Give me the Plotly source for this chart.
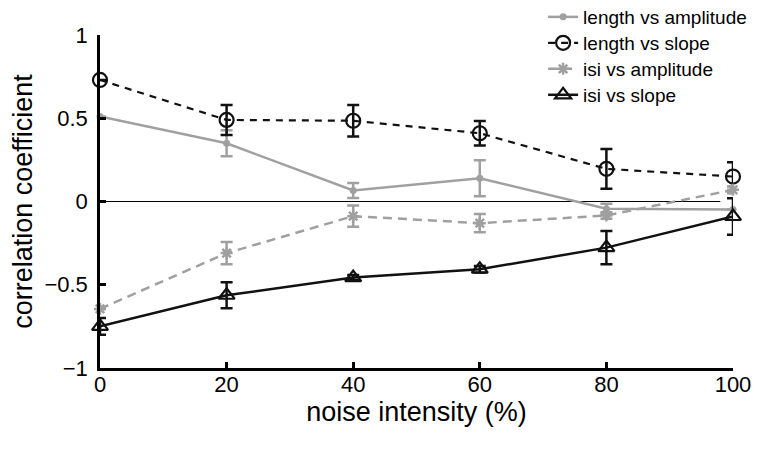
import plotly.graph_objects as go

noise = [0, 20, 40, 60, 80, 100]

len_amp = [0.51, 0.35, 0.066, 0.14, -0.044, -0.048]
len_amp_err = [0.0, 0.078, 0.045, 0.108, 0.03, 0.0]

len_slope = [0.73, 0.49, 0.485, 0.41, 0.196, 0.15]
len_slope_err = [0.0, 0.09, 0.094, 0.074, 0.12, 0.085]

isi_amp = [-0.645, -0.31, -0.088, -0.13, -0.084, 0.07]
isi_amp_err = [0.0, 0.067, 0.064, 0.055, 0.02, 0.02]

isi_slope = [-0.75, -0.563, -0.457, -0.407, -0.277, -0.09]
isi_slope_err = [0.05, 0.078, 0.015, 0.02, 0.1, 0.11]

names = ["length vs amplitude", "length vs slope", "isi vs amplitude", "isi vs slope"]

GRAY = "#a0a0a0"
BLACK = "#111111"

fig = go.Figure()

fig.add_shape(type="line", x0=0, x1=98, y0=0, y1=0, xref="x", yref="y",
              line=dict(color="black", width=1), layer="below")

def err(vals, color, w=2.5):
    return dict(type="data", array=vals, visible=True, color=color, thickness=w, width=6)

fig.add_trace(go.Scatter(
    x=noise, y=len_amp, name=names[0], mode="lines+markers", legend="legend",
    line=dict(color=GRAY, width=2.5),
    marker=dict(symbol="circle", size=7, color=GRAY),
    error_y=err(len_amp_err, GRAY), cliponaxis=False))

fig.add_trace(go.Scatter(
    x=noise, y=len_slope, name=names[1], mode="lines+markers", legend="legend2",
    line=dict(color=BLACK, width=2.2, dash="7px,6px"),
    marker=dict(symbol="circle-open", size=14, color=BLACK, line=dict(width=2.2, color=BLACK)),
    error_y=err(len_slope_err, BLACK), cliponaxis=False))

fig.add_trace(go.Scatter(
    x=noise, y=isi_amp, name=names[2], mode="lines+markers", legend="legend3",
    line=dict(color=GRAY, width=2.5, dash="9px,6px"),
    marker=dict(symbol="asterisk-open", size=10, color=GRAY, line=dict(width=2.5, color=GRAY)),
    error_y=err(isi_amp_err, GRAY), cliponaxis=False))

fig.add_trace(go.Scatter(
    x=noise, y=isi_slope, name=names[3], mode="lines+markers", legend="legend4",
    line=dict(color=BLACK, width=2.5),
    marker=dict(symbol="triangle-up-open", size=14, color=BLACK, line=dict(width=2.2, color=BLACK)),
    error_y=err(isi_slope_err, BLACK), cliponaxis=False))

FONT = "Liberation Sans"

legend_y = [1.054, 0.976, 0.898, 0.820]

def leg(y):
    return dict(x=0.700, xanchor="left", y=y, yanchor="middle",
                font=dict(size=19, family=FONT), bgcolor="rgba(0,0,0,0)",
                itemwidth=30, borderwidth=0)

fig.update_layout(
    width=756, height=442,
    margin=dict(l=92, r=31, t=27, b=82, autoexpand=False),
    plot_bgcolor="white", paper_bgcolor="white",
    font=dict(family=FONT, size=22, color="black"),
    showlegend=True,
    legend=leg(legend_y[0]),
    legend2=leg(legend_y[1]),
    legend3=leg(legend_y[2]),
    legend4=leg(legend_y[3]),
    xaxis=dict(range=[0, 100], tickvals=[0, 20, 40, 60, 80, 100],
               showline=True, linecolor="black", linewidth=2.5, mirror=False,
               ticks="inside", ticklen=6, tickwidth=2.5, tickcolor="black",
               showgrid=False, zeroline=False, ticklabelstandoff=-5,
               title=dict(text="noise intensity (%)", font=dict(size=27), standoff=0),
               tickfont=dict(size=22)),
    yaxis=dict(range=[-1, 1], tickvals=[-1, -0.5, 0, 0.5, 1],
               ticktext=["\u22121", "\u22120.5", "0", "0.5", "1"],
               showline=True, linecolor="black", linewidth=2.5,
               ticks="inside", ticklen=6, tickwidth=2.5, tickcolor="black",
               showgrid=False, zeroline=False, ticklabelstandoff=5,
               title=dict(text="correlation coefficient", font=dict(size=27), standoff=19),
               tickfont=dict(size=22)),
)

fig.write_html("out.html")
